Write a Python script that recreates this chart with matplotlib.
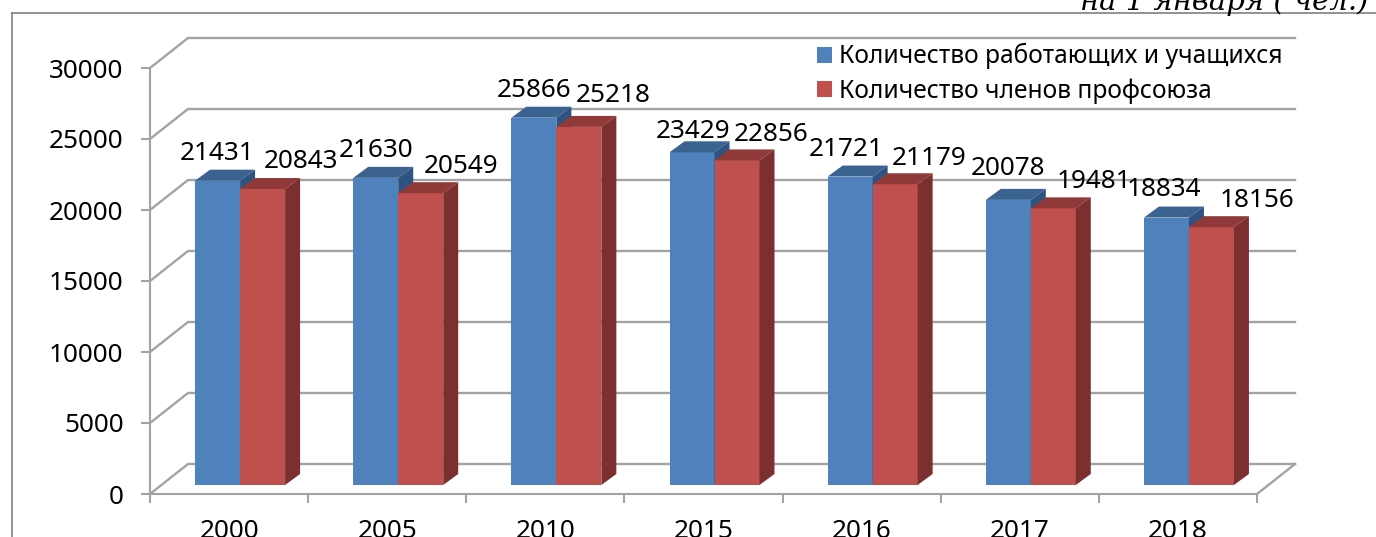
import matplotlib
matplotlib.use("Agg")
import matplotlib.pyplot as plt
from matplotlib.lines import Line2D
from matplotlib.patches import Patch

years = ["2000", "2005", "2010", "2015", "2016", "2017", "2018"]
workers = [21431, 21630, 25866, 23429, 21721, 20078, 18834]
members = [20843, 20549, 25218, 22856, 21179, 19481, 18156]
y_ticks = [0, 5000, 10000, 15000, 20000, 25000, 30000]

names = ["Количество работающих и учащихся", "Количество членов профсоюза"]
note = "на 1 января ( чел.)"

BLUE, BLUE_TOP, BLUE_SIDE = "#4F81BD", "#3B6391", "#2F5380"
RED, RED_TOP, RED_SIDE = "#C0504D", "#8F3A38", "#7B2F2E"
GRID = "#A3A3A3"

W, H = 1376, 537
LEFT, RIGHT, Y0, Y30K = 150, 1257, 494, 68
CAT_PX = (RIGHT - LEFT) / len(years)
VAL_PX = (Y0 - Y30K) / 30000


def dx(px):
    return px / CAT_PX


def dy(px):
    return px / VAL_PX


# hand-placed label nudges, pixels from the top of each bar
blue_nudge = [(0, 27), (0, 27), (0, 27), (1, 21), (-4, 27), (0, 31), (-3, 28)]
red_nudge = [(38, 28), (40, 27), (34, 31), (34, 26), (34, 26), (41, 27), (46, 27)]


def draw_bar(ax, x, value, color, top, side):
    w = dx(45)
    base = dy(9)
    ddx, ddy = dx(15), dy(11)
    ax.bar(x, value, width=w, bottom=base, align="edge", color=color, zorder=3, clip_on=False)
    yt = base + value
    ax.fill([x, x + ddx, x + w + ddx, x + w], [yt, yt + ddy, yt + ddy, yt],
            color=top, lw=0, zorder=3, clip_on=False)
    ax.fill([x + w, x + w + ddx, x + w + ddx, x + w], [base, base + ddy, yt + ddy, yt],
            color=side, lw=0, zorder=3, clip_on=False)


def main():
    plt.rcParams["font.family"] = ["Noto Sans", "DejaVu Sans"]

    fig = plt.figure(figsize=(W / 100, H / 100), dpi=100)
    ax = fig.add_axes([LEFT / W, 1 - Y0 / H, (RIGHT - LEFT) / W, (Y0 - Y30K) / H])
    ax.set_xlim(-0.5, len(years) - 0.5)
    ax.set_ylim(0, 30000)

    for s in ["top", "right"]:
        ax.spines[s].set_visible(False)
    for s in ["left", "bottom"]:
        ax.spines[s].set_color(GRID)
        ax.spines[s].set_linewidth(1.5)

    ax.set_yticks(y_ticks)
    ax.set_xticks([i - 0.5 for i in range(len(years) + 1)])
    ax.set_xticklabels([])
    ax.set_xticks(range(len(years)), labels=years, minor=True)
    ax.tick_params(axis="both", which="major", color=GRID, width=1.5, length=6.5, labelsize=18.8)
    ax.tick_params(axis="y", pad=12.5)
    ax.tick_params(axis="x", which="minor", length=0, labelsize=18.8, pad=18)

    # back wall and floor
    wx, wy = dx(38), dy(30)
    x0, x1 = -0.5, len(years) - 0.5
    for v in y_ticks:
        ax.plot([x0, x0 + wx, x1 + wx], [v, v + wy, v + wy], color=GRID, lw=1.7,
                zorder=1, clip_on=False, solid_joinstyle="miter")
    ax.plot([x1, x1 + wx], [0, wy], color=GRID, lw=1.7, zorder=1, clip_on=False)

    bar_w = dx(45)
    for i in range(len(years)):
        xb = i + dx(11) - bar_w
        draw_bar(ax, xb, workers[i], BLUE, BLUE_TOP, BLUE_SIDE)
        draw_bar(ax, xb + bar_w, members[i], RED, RED_TOP, RED_SIDE)
        base = dy(9)
        ax.annotate(str(workers[i]), (xb + bar_w / 2, workers[i] + base),
                    xytext=blue_nudge[i], textcoords="offset pixels",
                    ha="center", va="center", fontsize=18.8, zorder=5, annotation_clip=False)
        ax.annotate(str(members[i]), (xb + bar_w * 1.5, members[i] + base),
                    xytext=red_nudge[i], textcoords="offset pixels",
                    ha="center", va="center", fontsize=18.8, zorder=5, annotation_clip=False)

    handles = [Patch(facecolor=BLUE, label=names[0]), Patch(facecolor=RED, label=names[1])]
    ax.legend(handles=handles, loc="upper left", bbox_to_anchor=(817 / W, 1 - 43 / H),
              bbox_transform=fig.transFigure, frameon=False, fontsize=17.7,
              handlelength=0.61, handleheight=0.61, handletextpad=0.3,
              labelspacing=0.36, borderpad=0, borderaxespad=0)

    # outer frame of the page
    fig.add_artist(Line2D([12 / W, 1], [1 - 13 / H, 1 - 13 / H], color="#808080", lw=1.2))
    fig.add_artist(Line2D([12 / W, 12 / W], [0, 1 - 13 / H], color="#808080", lw=1.2))
    fig.text(1368 / W, 1 - 10 / H, note, ha="right", va="baseline", fontsize=21,
             family="DejaVu Serif", style="italic")

    fig.savefig("out.png", dpi=100)


if __name__ == "__main__":
    main()
